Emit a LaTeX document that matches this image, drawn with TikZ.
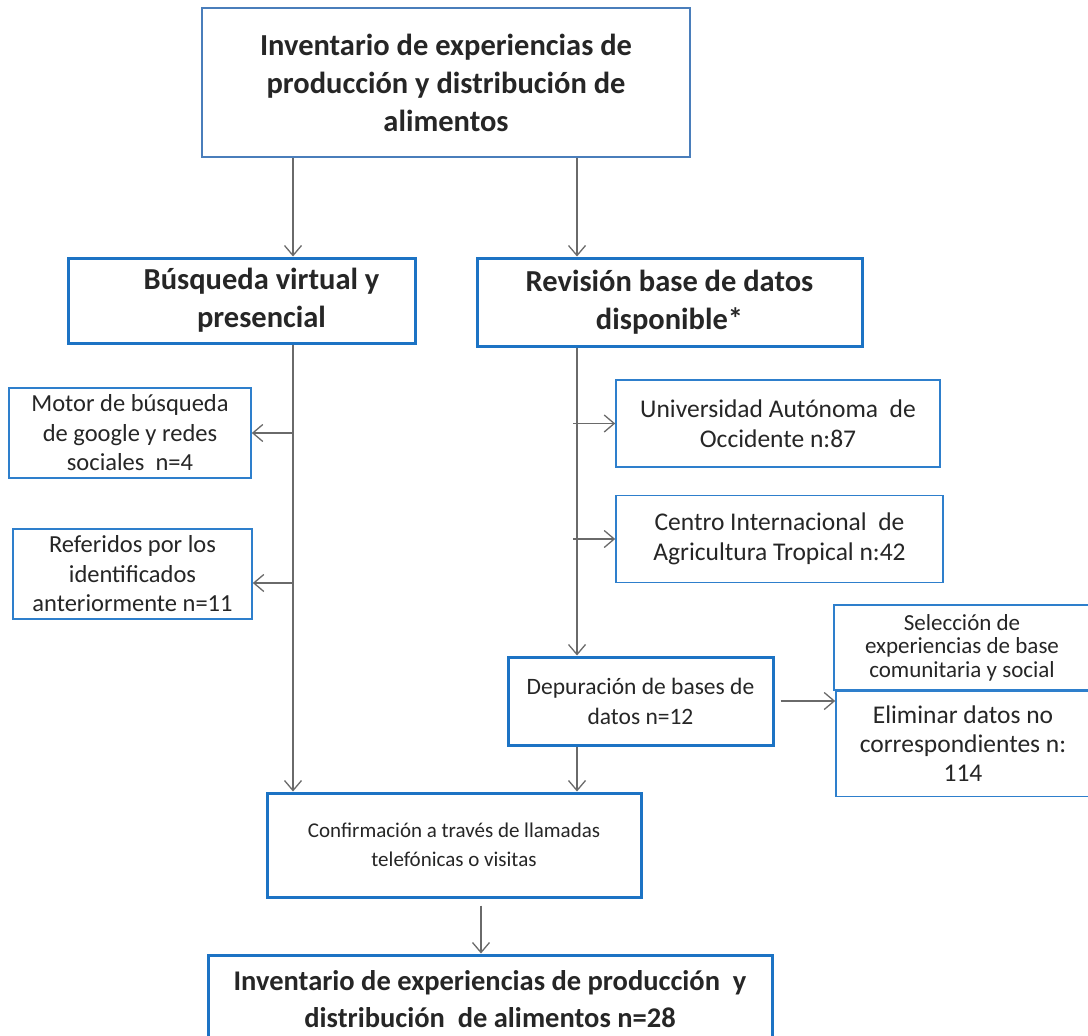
\documentclass[tikz,border=0pt]{standalone}
\usepackage{fontspec}
\setmainfont{Carlito}
\usetikzlibrary{arrows.meta,calc}
\definecolor{bluetop}{HTML}{4A7EBB}
\definecolor{bluethick}{HTML}{1C73C4}
\definecolor{bluethin}{HTML}{2E7FCC}
\definecolor{linegray}{HTML}{6A6A6A}
\begin{document}
\begin{tikzpicture}[x=1pt,y=-1pt,
  boxbase/.style={rectangle,inner sep=0pt,align=center,text=black!85},
  topbox/.style={boxbase,draw=bluetop,line width=2.6pt},
  thickbox/.style={boxbase,draw=bluethick,line width=3pt},
  thinbox/.style={boxbase,draw=bluethin,line width=1.6pt},
  arr/.style={draw=linegray,line width=1.4pt,-{Straight Barb[length=10pt,width=17pt,line width=1.3pt]}},
  bigb/.style={font=\fontsize{30.5}{38}\selectfont\bfseries},
  small/.style={font=\fontsize{24.5}{29.5}\selectfont}
  ]
\useasboundingbox (0,0) rectangle (1088,1036);
\fill[white] (0,0) rectangle (1088,1036);

\node[topbox,bigb,minimum width=488pt,minimum height=149pt] (top) at (446,82.5)
  {Inventario de experiencias de\\producción y distribución de\\alimentos};
\node[thickbox,bigb,minimum width=347pt,minimum height=85pt] (busq) at (241.5,300.5)
  {\hspace*{40pt}Búsqueda virtual y\\\hspace*{40pt}presencial};
\node[thickbox,bigb,minimum width=385pt,minimum height=88pt] (rev) at (669.5,302)
  {Revisión base de datos\\disponible*};
\node[thinbox,small,minimum width=242pt,minimum height=90pt] (motor) at (130,433)
  {Motor de búsqueda\\de google y redes\\sociales\ \ n=4};
\node[thinbox,small,minimum width=239pt,minimum height=90pt] (ref) at (132.5,574)
  {Referidos por los\\identificados\\anteriormente n=11};
\node[thinbox,font=\fontsize{25.5}{30.5}\selectfont,minimum width=324pt,minimum height=87pt] (uni) at (778,423.5)
  {Universidad Autónoma\ \ de\\Occidente n:87};
\node[thinbox,font=\fontsize{25.5}{30.5}\selectfont,minimum width=327pt,minimum height=87pt] (cen) at (779.5,539)
  {Centro Internacional\ \ de\\Agricultura Tropical n:42};
\node[thickbox,font=\fontsize{23.5}{30}\selectfont,minimum width=265pt,minimum height=88pt] (dep) at (640.5,701)
  {Depuración de bases de\\datos n=12};
\node[thinbox,font=\fontsize{23}{23.5}\selectfont,minimum width=256pt,minimum height=85pt] (sel) at (962,647.5)
  {Selección de\\experiencias de base\\comunitaria y social};
\node[thinbox,font=\fontsize{25.5}{29}\selectfont,minimum width=254pt,minimum height=105pt] (elim) at (963,744)
  {Eliminar datos no\\correspondientes n:\\114};
\node[thickbox,font=\fontsize{21}{28.5}\selectfont,minimum width=374pt,minimum height=104pt] (conf) at (454,845)
  {Confirmación a través de llamadas\\telefónicas o visitas};
\node[thickbox,font=\fontsize{28.5}{37}\selectfont\bfseries,minimum width=564pt,minimum height=88pt] (fin) at (490,999)
  {Inventario de experiencias de producción\ \ y\\distribución\ \ de alimentos n=28};

\coordinate (vL) at (293,0);
\coordinate (vR) at (577,0);
\coordinate (vC) at (481,0);

\draw[arr] (vL |- top.south) -- (vL |- busq.north);
\draw[arr] (vR |- top.south) -- (vR |- rev.north);
\draw[arr] (vL |- busq.south) -- (vL |- conf.north);
\draw[arr] (vL |- motor.east) -- (motor.east);
\draw[arr] ($(vL |- ref.east)+(0,9)$) -- ($(ref.east)+(0,9)$);
\draw[arr] (vR |- rev.south) -- (vR |- dep.north);
\draw[arr] ($(vR |- uni.west)+(-4,0)$) -- (uni.west);
\draw[arr] ($(vR |- cen.west)+(-4,0)$) -- (cen.west);
\draw[arr] ($(dep.east)+(6,0)$) -- (dep.east -| elim.west);
\draw[arr] (vR |- dep.south) -- (vR |- conf.north);
\draw[arr] ($(vC |- conf.south)+(0,7)$) -- (vC |- fin.north);
\end{tikzpicture}
\end{document}
